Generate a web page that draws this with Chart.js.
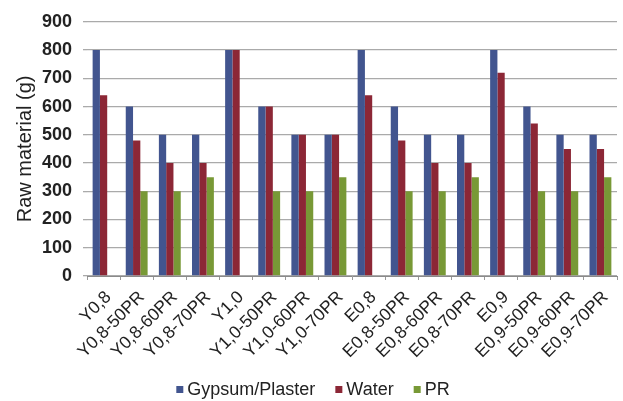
<!DOCTYPE html>
<html>
<head>
<meta charset="utf-8">
<script src="https://cdn.jsdelivr.net/npm/chart.js@4/dist/chart.umd.min.js"></script>
<style>
  html, body { margin: 0; padding: 0; background: #ffffff; }
  #wrap { width: 623px; height: 401px; }
</style>
</head>
<body>
<div id="wrap"><canvas id="c" width="623" height="401"></canvas></div>
<script>
// Mix compositions
const categories = [
  "Y0,8", "Y0,8-50PR", "Y0,8-60PR", "Y0,8-70PR",
  "Y1,0", "Y1,0-50PR", "Y1,0-60PR", "Y1,0-70PR",
  "E0,8", "E0,8-50PR", "E0,8-60PR", "E0,8-70PR",
  "E0,9", "E0,9-50PR", "E0,9-60PR", "E0,9-70PR"
];
// Raw material quantities in grams
const gypsum = [800, 600, 500, 500, 800, 600, 500, 500, 800, 600, 500, 500, 800, 600, 500, 500];
const water  = [640, 480, 400, 400, 800, 600, 500, 500, 640, 480, 400, 400, 720, 540, 450, 450];
const pr     = [0, 300, 300, 350, 0, 300, 300, 350, 0, 300, 300, 350, 0, 300, 300, 350];
const yTicks = [0, 100, 200, 300, 400, 500, 600, 700, 800, 900];
const seriesNames = ['Gypsum/Plaster', 'Water', 'PR'];

const font = "'Liberation Sans', Arial, sans-serif";
const baseColors  = ['#42558f', '#8c2736', '#789936'];
const lightColors = ['#5b6aa6', '#a63c48', '#92ae4e'];

// Horizontal shading across each bar, for a cylinder-like look
function shaded(ctx, i) {
  const chart = ctx.chart;
  const el = ctx.element;
  if (!el || !chart.chartArea) return baseColors[i];
  const x = el.x, w = el.width;
  if (!isFinite(x) || !isFinite(w) || w <= 0) return baseColors[i];
  const g = chart.ctx.createLinearGradient(x - w / 2, 0, x + w / 2, 0);
  g.addColorStop(0, baseColors[i]);
  g.addColorStop(0.45, lightColors[i]);
  g.addColorStop(1, baseColors[i]);
  return g;
}

// Compact legend row under the axis labels: small square, narrow gap, text
const bottomLegend = {
  id: 'bottomLegend',
  afterDraw(chart) {
    const c = chart.ctx;
    c.save();
    c.font = '18px ' + font;
    c.textBaseline = 'alphabetic';
    const box = 7, gap = 4, spacing = 20;
    const widths = seriesNames.map(t => c.measureText(t).width);
    const total = widths.reduce((a, w) => a + box + gap + w, 0) + spacing * (seriesNames.length - 1);
    let x = 313 - total / 2;
    const base = 395;
    seriesNames.forEach((t, i) => {
      c.fillStyle = baseColors[i];
      c.fillRect(x, base - 9, box, box);
      x += box + gap;
      c.fillStyle = '#222';
      c.fillText(t, x, base);
      x += widths[i] + spacing;
    });
    c.restore();
  }
};

new Chart(document.getElementById('c'), {
  type: 'bar',
  data: {
    labels: categories,
    datasets: [
      { label: seriesNames[0], data: gypsum, backgroundColor: c => shaded(c, 0) },
      { label: seriesNames[1], data: water, backgroundColor: c => shaded(c, 1) },
      { label: seriesNames[2], data: pr, backgroundColor: c => shaded(c, 2) }
    ]
  },
  plugins: [bottomLegend],
  options: {
    responsive: false,
    animation: false,
    devicePixelRatio: 1,
    layout: { padding: { top: 17, right: 6, left: 0, bottom: 0 } },
    datasets: {
      bar: { categoryPercentage: 0.66, barPercentage: 1.0, borderWidth: 0 }
    },
    plugins: {
      legend: { display: false },
      tooltip: { enabled: false }
    },
    scales: {
      x: {
        afterFit: axis => { axis.height = 125; },
        grid: { display: true, drawOnChartArea: false, drawTicks: true, tickLength: 4, color: '#999', offset: true },
        border: { display: true, color: '#8a8a8a' },
        ticks: {
          font: { family: font, size: 17.5 },
          color: '#222',
          minRotation: 45,
          maxRotation: 45,
          autoSkip: false,
          padding: 7,
          labelOffset: 5
        }
      },
      y: {
        min: 0,
        max: 900,
        afterBuildTicks: axis => { axis.ticks = yTicks.map(v => ({ value: v })); },
        afterFit: axis => { axis.width = 87; },
        grid: { color: '#aaaaaa', lineWidth: 1.3, tickLength: 4 },
        border: { display: false },
        ticks: {
          font: { family: font, size: 18, weight: 'bold' },
          color: '#222',
          padding: 11
        },
        title: {
          display: true,
          text: 'Raw material (g)',
          font: { family: font, size: 20 },
          color: '#222',
          padding: { top: 13, bottom: 0 }
        }
      }
    }
  }
});
</script>
</body>
</html>
